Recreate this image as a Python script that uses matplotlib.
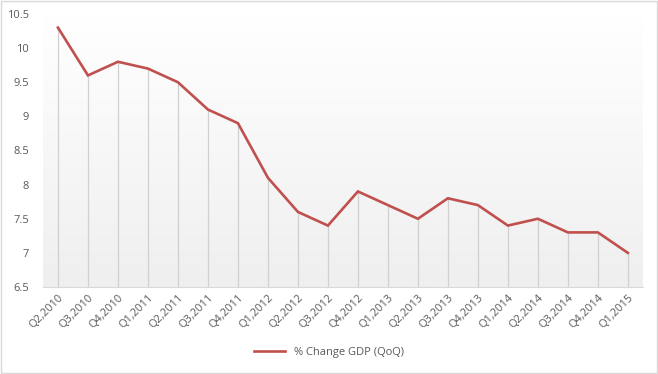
import matplotlib.pyplot as plt
import numpy as np
from matplotlib.patches import Rectangle

quarters = ["Q2,2010", "Q3,2010", "Q4,2010", "Q1,2011", "Q2,2011", "Q3,2011", "Q4,2011",
            "Q1,2012", "Q2,2012", "Q3,2012", "Q4,2012", "Q1,2013", "Q2,2013", "Q3,2013",
            "Q4,2013", "Q1,2014", "Q2,2014", "Q3,2014", "Q4,2014", "Q1,2015"]
gdp_change = [10.3, 9.6, 9.8, 9.7, 9.5, 9.1, 8.9, 8.1, 7.6, 7.4, 7.9, 7.7, 7.5, 7.8,
              7.7, 7.4, 7.5, 7.3, 7.3, 7.0]
y_ticks = [6.5, 7, 7.5, 8, 8.5, 9, 9.5, 10, 10.5]

plt.rcParams['font.family'] = ['Open Sans', 'DejaVu Sans']

fig = plt.figure(figsize=(6.58, 3.74), dpi=100)
ax = fig.add_axes([0.0653, 0.2326, 0.9117, 0.73])

x = np.arange(len(quarters))
ymin, ymax = 6.5, 10.5

# gradient fill of plot area (white at top, light gray at bottom)
grad = np.linspace(1.0, 0.0, 256).reshape(-1, 1)
ax.imshow(grad, extent=(-0.5, len(quarters) - 0.5, ymin, ymax), aspect='auto',
          cmap=plt.matplotlib.colors.LinearSegmentedColormap.from_list('g', ['#efefef', '#ffffff']),
          origin='upper', zorder=0)

ax.vlines(x, ymin, gdp_change, color='#d0d0d0', lw=0.9, zorder=1)
ax.plot(x, gdp_change, color='#c0504d', lw=1.9, zorder=3, label='% Change GDP (QoQ)',
        solid_joinstyle='miter')

ax.set_xlim(-0.5, len(quarters) - 0.5)
ax.set_ylim(ymin, ymax)
ax.set_yticks(y_ticks)
ax.set_yticklabels([f"{v:g}" for v in y_ticks])
ax.set_xticks(x)
ax.set_xticklabels(quarters, rotation=45, ha='right', rotation_mode='anchor')

for s in ['top', 'right', 'left']:
    ax.spines[s].set_visible(False)
ax.spines['bottom'].set_color('#d9d9d9')
ax.tick_params(axis='both', length=0, labelsize=8, colors='#595959')
ax.tick_params(axis='y', pad=10)
ax.tick_params(axis='x', pad=4)

fig.legend(loc='center', bbox_to_anchor=(0.5, 0.058), frameon=False, fontsize=8,
           handlelength=2.8, labelcolor='#595959')

fig.patches.append(Rectangle((0.001, 0.002), 0.997, 0.995, transform=fig.transFigure,
                             fill=False, edgecolor='#d9d9d9', lw=1))

fig.savefig('out.png', dpi=100)
